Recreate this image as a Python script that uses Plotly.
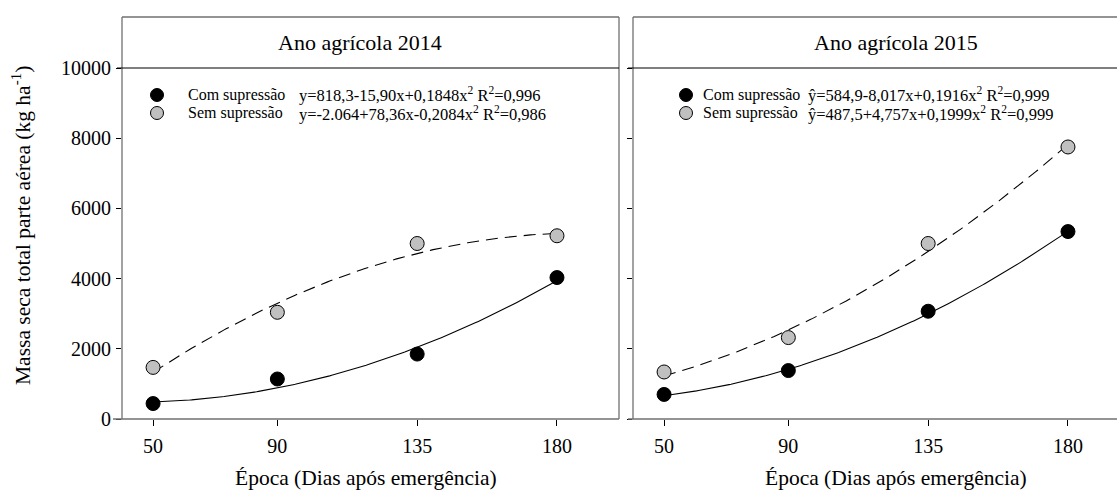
import numpy as np
import plotly.graph_objects as go

# ---- data ----
epocas = [50, 90, 135, 180]
com_2014 = [440, 1140, 1850, 4030]
sem_2014 = [1470, 3040, 5000, 5220]
com_2015 = [700, 1380, 3070, 5340]
sem_2015 = [1340, 2320, 5000, 7750]

# fitted quadratic coefficients printed on the chart (a + b x + c x^2)
coef_com_2014 = [818.3, -15.90, 0.1848]
coef_sem_2014 = [-2064.0, 78.36, -0.2084]
coef_com_2015 = [584.9, -8.017, 0.1916]
coef_sem_2015 = [487.5, 4.757, 0.1999]

eq_com_2014 = "y=818,3-15,90x+0,1848x<sup>2</sup> R<sup>2</sup>=0,996"
eq_sem_2014 = "y=-2.064+78,36x-0,2084x<sup>2</sup> R<sup>2</sup>=0,986"
eq_com_2015 = "ŷ=584,9-8,017x+0,1916x<sup>2</sup> R<sup>2</sup>=0,999"
eq_sem_2015 = "ŷ=487,5+4,757x+0,1999x<sup>2</sup> R<sup>2</sup>=0,999"

titulos = ["Ano agrícola 2014", "Ano agrícola 2015"]
y_ticks = [0, 2000, 4000, 6000, 8000, 10000]
y_ticklabels = ["0", "2000", "4000", "6000", "8000", "10000"]
x_ticklabels = ["50", "90", "135", "180"]
x_title = "Época (Dias após emergência)"
y_title = "Massa seca total parte aérea (kg ha<sup>-1</sup>)"

FONT = "Liberation Serif, Times New Roman, serif"
GRAY = "#c0c0c0"
FRAME = "#707070"

W, H = 1117, 495
ML, MR, MT, MB = 122, 0, 68, 76
PW = W - ML - MR
PH = H - MT - MB


def px(x):
    return (x - ML) / PW


def py(y):
    return (H - MB - y) / PH


xs = np.linspace(min(epocas), max(epocas), 200)


def quad(c):
    return c[0] + c[1] * xs + c[2] * xs ** 2


fig = go.Figure()

panels = [
    ("x", "y", com_2014, sem_2014, coef_com_2014, coef_sem_2014),
    ("x2", "y2", com_2015, sem_2015, coef_com_2015, coef_sem_2015),
]
for xa, ya, com, sem, cc, cs in panels:
    fig.add_trace(go.Scatter(x=xs, y=quad(cs), mode="lines", xaxis=xa, yaxis=ya,
                             line=dict(color="black", width=1.1, dash="12px,7px"),
                             showlegend=False, hoverinfo="skip"))
    fig.add_trace(go.Scatter(x=xs, y=quad(cc), mode="lines", xaxis=xa, yaxis=ya,
                             line=dict(color="black", width=1.1),
                             showlegend=False, hoverinfo="skip"))
    fig.add_trace(go.Scatter(x=epocas, y=sem, mode="markers", xaxis=xa, yaxis=ya,
                             marker=dict(size=14, color=GRAY, line=dict(color="black", width=1)),
                             name="Sem supressão", showlegend=False))
    fig.add_trace(go.Scatter(x=epocas, y=com, mode="markers", xaxis=xa, yaxis=ya,
                             marker=dict(size=14, color="black", line=dict(color="black", width=1)),
                             name="Com supressão", showlegend=False))

# panel geometry (pixels)
L1, R1 = 122, 619
L2, R2 = 633, 1117
TOP, STRIP_BOT, BOT = 17, 68, 419
SCALE = 3.107  # px per day

d1 = [px(L1), px(R1)]
d2 = [px(L2), 1.0]

axis_common = dict(showgrid=False, zeroline=False, showline=False,
                   ticks="outside", tickcolor="black", tickwidth=1,
                   tickfont=dict(family=FONT, size=20, color="black"))

fig.update_layout(
    width=W, height=H,
    margin=dict(l=ML, r=MR, t=MT, b=MB, pad=0),
    paper_bgcolor="white", plot_bgcolor="white",
    showlegend=False,
    xaxis=dict(domain=d1, range=[40, 40 + (R1 - L1) / SCALE], tickvals=epocas,
               ticktext=x_ticklabels, ticklen=6, ticklabelstandoff=3,
               anchor="y", **axis_common),
    xaxis2=dict(domain=d2, range=[40, 40 + (R2 - L2) / SCALE], tickvals=epocas,
                ticktext=x_ticklabels, ticklen=6, ticklabelstandoff=3,
                anchor="y2", **axis_common),
    yaxis=dict(domain=[0, 1], range=[0, 10000], tickvals=y_ticks,
               ticktext=y_ticklabels, ticklen=5, ticklabelstandoff=1,
               anchor="x", **axis_common),
    yaxis2=dict(domain=[0, 1], range=[0, 10000], tickvals=y_ticks, ticklen=5,
                showticklabels=False, anchor="x2", **axis_common),
)

shapes = []


def line(x0, y0, x1, y1, color=FRAME, width=1.3):
    shapes.append(dict(type="line", xref="paper", yref="paper",
                       x0=px(x0), y0=py(y0), x1=px(x1), y1=py(y1),
                       line=dict(color=color, width=width), layer="above"))


# left panel frame
line(L1, TOP, L1, BOT)
line(R1, TOP, R1, BOT)
line(L1, TOP, R1, TOP)
line(113, BOT, R1, BOT)
line(L1 - 5, STRIP_BOT, R1, STRIP_BOT, color="black", width=1)
# right panel frame
line(L2, TOP, L2, BOT)
line(L2, TOP, R2 + 5, TOP)
line(628, BOT, R2 + 5, BOT)
line(L2 - 5, STRIP_BOT, R2 + 5, STRIP_BOT, color="black", width=1)

annotations = []
for title, cx in zip(titulos, [360, 896]):
    annotations.append(dict(text=title, xref="paper", yref="paper",
                            x=px(cx), y=py((TOP + STRIP_BOT) / 2), showarrow=False,
                            xanchor="center", yanchor="middle",
                            font=dict(family=FONT, size=22, color="black")))

# legend-like keys
legend_rows = [
    (157, 186, 297, eq_com_2014, eq_sem_2014),
    (686, 701, 806, eq_com_2015, eq_sem_2015),
]
for mx, tx, ex, eq_c, eq_s in legend_rows:
    for yy, fill, name, eq in [(95, "black", "Com supressão", eq_c),
                               (113, GRAY, "Sem supressão", eq_s)]:
        shapes.append(dict(type="circle", xref="paper", yref="paper",
                           xsizemode="pixel", ysizemode="pixel",
                           xanchor=px(mx), yanchor=py(yy),
                           x0=-6.5, x1=6.5, y0=-6.5, y1=6.5,
                           fillcolor=fill, line=dict(color="black", width=1),
                           layer="above"))
        annotations.append(dict(text=name, xref="paper", yref="paper",
                                x=px(tx), y=py(yy), showarrow=False,
                                xanchor="left", yanchor="middle",
                                font=dict(family=FONT, size=16, color="black")))
        annotations.append(dict(text=eq, xref="paper", yref="paper",
                                x=px(ex), y=py(yy), showarrow=False,
                                xanchor="left", yanchor="middle",
                                font=dict(family=FONT, size=16.5, color="black")))

# axis titles
for cx in [366, 896]:
    annotations.append(dict(text=x_title, xref="paper", yref="paper",
                            x=px(cx), y=py(478), showarrow=False,
                            xanchor="center", yanchor="middle",
                            font=dict(family=FONT, size=21.5, color="black")))
annotations.append(dict(text=y_title, xref="paper", yref="paper",
                        x=px(21), y=py(226), showarrow=False, textangle=-90,
                        xanchor="center", yanchor="middle",
                        font=dict(family=FONT, size=21.5, color="black")))

fig.update_layout(shapes=shapes, annotations=annotations)
fig.write_html("out.html")
